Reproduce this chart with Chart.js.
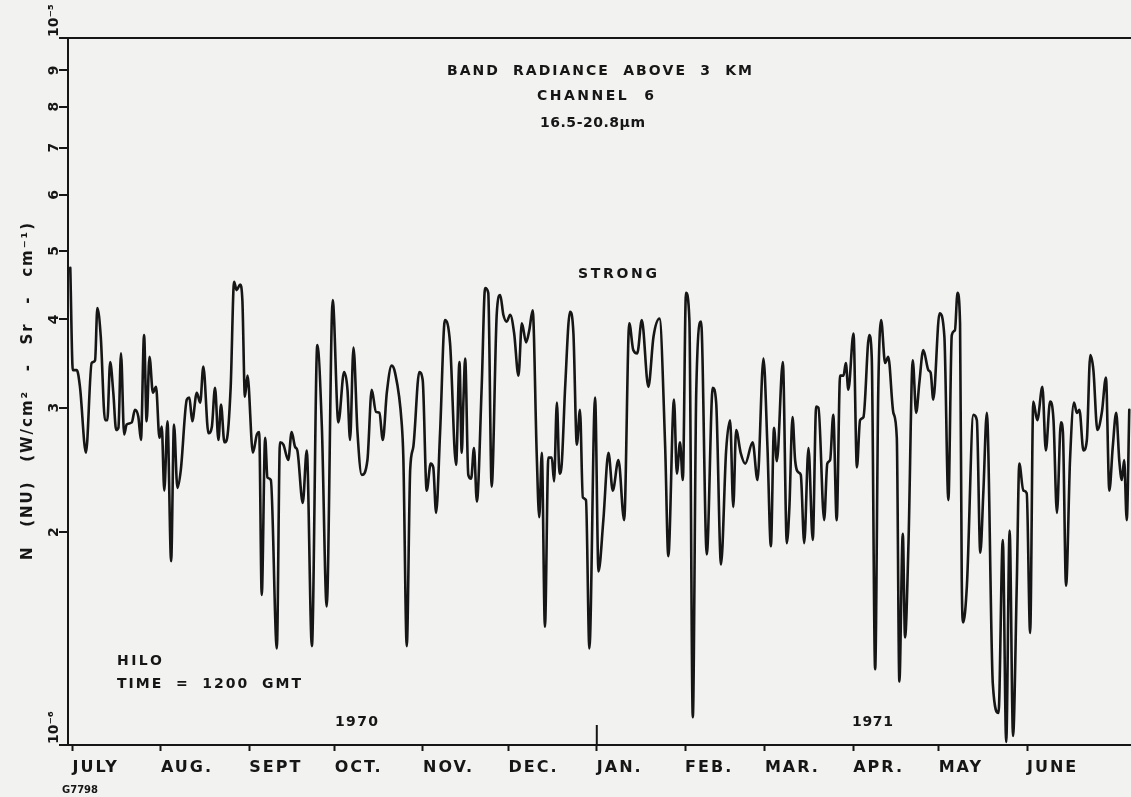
<!DOCTYPE html>
<html>
<head>
<meta charset="utf-8">
<script src="https://cdn.jsdelivr.net/npm/chart.js@4.4.1/dist/chart.umd.min.js"></script>
<style>
  html, body { margin: 0; padding: 0; background: #f2f2f0; }
  #wrap { width: 1131px; height: 797px; position: relative; }
</style>
</head>
<body>
<div id="wrap"><canvas id="c" width="1131" height="797"></canvas></div>
<script>
// ---- DATA (days since 1 July 1970; radiance in units of 1e-6 W/cm2-sr-cm-1) ----
const days = [
  -0.8, 0.1, 1.5, 2.6, 4.7, 6.7, 7.9, 8.7, 9.9, 11.4, 12.2, 13.2, 14.3, 15.3, 16.1, 17.0, 18.1, 19.0, 20.8, 21.9,
  23.1, 24.0, 25.1, 26.0, 27.0, 28.2, 29.3, 30.5, 31.3, 32.2, 33.3, 34.6, 35.6, 36.8, 38.0, 40.1, 41.0, 42.0, 43.6, 44.8,
  45.9, 47.7, 48.9, 50.0, 51.2, 52.1, 53.3, 54.1, 55.5, 56.7, 57.6, 58.8, 59.6, 60.5, 61.4, 63.3, 64.7, 65.5, 66.4, 67.6,
  68.4, 69.6, 71.7, 72.8, 74.0, 75.7, 76.9, 78.1, 78.9, 80.8, 82.2, 84.0, 85.9, 87.5, 89.2, 91.3, 93.3, 95.3, 96.5, 97.4,
  98.6, 100.0, 101.5, 103.5, 105.0, 106.5, 107.7, 108.9, 110.3, 112.0, 113.2, 115.5, 116.1, 117.3, 118.5, 119.6, 121.7,
  122.9, 124.3, 125.7, 126.6, 127.6, 129.0, 130.7, 132.5, 134.6, 135.8, 136.6, 137.2, 137.8, 138.9, 139.9, 140.9, 141.9,
  143.6, 144.8, 145.9, 147.1, 148.9, 150.1, 151.2, 152.4, 153.6, 155.0, 156.5, 157.7, 159.2, 160.3, 161.5, 162.9, 163.8,
  164.7, 165.8, 167.0, 168.2, 169.0, 170.0, 170.9, 171.7, 172.9, 174.6, 175.8, 177.0, 178.1, 179.1, 180.2, 181.4, 183.4,
  184.6, 186.3, 188.1, 189.6, 191.6, 193.6, 195.4, 196.8, 198.2, 199.8, 202.1, 203.9, 206.0, 208.0, 209.1, 211.1, 212.1,
  213.2, 214.2, 215.3, 216.5, 217.7, 218.9, 220.6, 222.6, 224.7, 225.9, 227.6, 229.4, 230.8, 231.9, 232.9, 234.5, 236.1,
  238.7, 240.4,
  242.5, 243.9, 245.1, 246.2, 247.2, 249.3, 250.7, 251.6, 252.7, 253.6, 254.8, 255.6, 256.8, 258.3, 259.8, 261.0, 261.8,
  263.8, 264.9, 265.9, 267.0, 268.2, 269.4, 270.6, 271.4, 272.3, 274.1, 275.3, 276.4, 277.6, 279.6, 280.5, 281.7, 282.8,
  283.8, 285.2, 286.3, 288.1, 289.3, 290.2, 291.4, 292.2, 293.4, 294.9, 296.1, 297.2, 298.6, 300.4, 301.2, 302.1, 304.3,
  306.0, 307.4, 308.6, 309.7, 310.6, 311.5, 312.1, 312.6, 313.9, 316.2, 317.4, 318.6, 319.7, 320.9, 323.0, 325.0,
  326.5, 327.7, 328.9, 330.1, 331.4, 332.3, 333.7, 334.9, 336.1, 337.2, 338.6, 340.4, 341.6, 343.1, 344.3, 345.5,
  346.9, 347.6, 348.7, 350.1, 351.5, 352.5, 353.4, 354.8, 356.0, 357.2, 358.3, 359.7, 361.3, 362.7, 363.9, 365.1, 366.3,
  367.4, 368.3, 369.1, 370.0, 370.9
];
const radiance = [
  4.73, 3.39, 3.39, 3.21, 2.59, 3.47, 3.50, 4.15, 3.78, 2.88, 2.88, 3.48, 3.15, 2.79, 2.81, 3.58, 2.75, 2.84, 2.86, 2.98,
  2.91, 2.70, 3.80, 2.87, 3.54, 3.15, 3.21, 2.72, 2.82, 2.29, 2.87, 1.82, 2.84, 2.31, 2.45, 3.08, 3.10, 2.87, 3.15, 3.05,
  3.43, 2.76, 2.82, 3.20, 2.70, 3.03, 2.68, 2.70, 3.21, 4.52, 4.40, 4.48, 4.26, 3.11, 3.33, 2.59, 2.75, 2.77, 1.63, 2.72,
  2.39, 2.37, 1.37, 2.68, 2.66, 2.53, 2.77, 2.64, 2.61, 2.20, 2.61, 1.38, 3.68, 2.82, 1.57, 4.26, 2.86, 3.37, 3.18, 2.70,
  3.65, 2.77, 2.41, 2.53, 3.18, 2.96, 2.95, 2.70, 3.15, 3.44, 3.36, 2.86, 2.55, 1.38, 2.45, 2.64, 3.37,
  3.28, 2.29, 2.50, 2.47, 2.13, 2.77, 3.99, 3.70, 2.49, 3.48, 2.59, 3.08, 3.52, 2.41, 2.38, 2.63, 2.21,
  3.21, 4.43, 4.36, 2.32, 4.08, 4.33, 4.06, 3.97, 4.06, 3.82, 3.33, 3.95, 3.71, 3.86, 4.12, 2.59, 2.10,
  2.59, 1.47, 2.55, 2.55, 2.36, 3.05, 2.42, 2.50, 3.21, 4.10, 3.82, 2.66, 2.98, 2.24, 2.22, 1.37, 3.10,
  1.76, 2.08, 2.59, 2.29, 2.53, 2.08, 3.95, 3.62, 3.58, 3.99, 3.21, 3.78, 4.01, 2.64, 1.85, 3.08, 2.42,
  2.68, 2.37, 4.36, 3.99, 1.095, 3.15, 3.97, 1.86, 3.20, 3.05, 1.80, 2.61, 2.88, 2.17, 2.79, 2.59, 2.50,
  2.68, 2.37,
  3.52, 2.64, 1.91, 2.81, 2.52, 3.48, 1.93, 2.17, 2.91, 2.53, 2.43, 2.41, 1.93, 2.63, 1.95, 3.01, 3.00,
  2.08, 2.50, 2.53, 2.93, 2.08, 3.33, 3.33, 3.47, 3.18, 3.82, 2.47, 2.88, 2.91, 3.80, 3.54, 1.28, 3.18,
  3.99, 3.47, 3.54, 2.95, 2.72, 1.23, 1.99, 1.42, 1.93, 3.50, 2.95, 3.25, 3.62, 3.39, 3.36, 3.08, 4.08,
  3.78, 2.22, 3.80, 3.86, 4.36, 3.95, 1.71, 1.49, 1.68, 2.93, 2.88, 1.87, 2.29, 2.95, 1.22, 1.11,
  1.95, 1.01, 2.01, 1.03, 1.68, 2.50, 2.29, 2.27, 1.44, 3.06, 2.88, 3.21, 2.61, 3.06, 2.88, 2.13,
  2.86, 2.77, 1.68, 2.53, 3.05, 2.95, 2.98, 2.61, 2.70, 3.56, 3.39, 2.79, 2.96, 3.31, 2.29, 2.64, 2.95,
  2.52, 2.37, 2.53, 2.08, 2.98
];
const monthStartDays = [0, 31, 62, 92, 123, 153, 184, 215, 243, 274, 304, 335];
const monthLabels = ['JULY', 'AUG.', 'SEPT', 'OCT.', 'NOV.', 'DEC.', 'JAN.', 'FEB.', 'MAR.', 'APR.', 'MAY', 'JUNE'];
const yearMarkDay = 184;
const yTickValues = [1, 2, 3, 4, 5, 6, 7, 8, 9, 10];
const yTickLabels = ['10\u207B\u2076', '2', '3', '4', '5', '6', '7', '8', '9', '10\u207B\u2075'];
const X_MIN = -1.6, X_MAX = 371.5;

// ---- STYLE ----
const INK = '#161616';
const FONT = '"DejaVu Sans", "Liberation Sans", sans-serif';

// draw text spread between left and right: fixed gap between letters, stretched word spaces
function spanWords(ctx, str, left, right, cy, size, letterGap) {
  ctx.font = 'bold ' + size + 'px ' + FONT;
  ctx.textBaseline = 'middle';
  ctx.textAlign = 'left';
  const words = str.split(' ');
  const charW = c => ctx.measureText(c).width;
  if (words.length === 1) {
    const cs = Array.from(str);
    const sum = cs.reduce((a, c) => a + charW(c), 0);
    letterGap = cs.length > 1 ? (right - left - sum) / (cs.length - 1) : 0;
  }
  const wordW = words.map(w => {
    const cs = Array.from(w);
    return cs.reduce((a, c) => a + charW(c), 0) + letterGap * (cs.length - 1);
  });
  const total = wordW.reduce((a, b) => a + b, 0);
  const space = words.length > 1 ? (right - left - total) / (words.length - 1) : 0;
  let x = left;
  words.forEach((w, i) => {
    Array.from(w).forEach(c => { ctx.fillText(c, x, cy); x += charW(c) + letterGap; });
    x += space - letterGap;
  });
}

const annotations = {
  id: 'annotations',
  beforeDraw(chart) {
    chart.ctx.letterSpacing = '2px';
  },
  afterDraw(chart) {
    const ctx = chart.ctx;
    ctx.letterSpacing = '0px';
    const xs = chart.scales.x, ys = chart.scales.y;
    const area = chart.chartArea;
    ctx.save();
    ctx.fillStyle = INK;
    ctx.strokeStyle = INK;

    // y tick labels (rotated, reading upward)
    yTickValues.forEach((v, i) => {
      const py = ys.getPixelForValue(v);
      ctx.save();
      ctx.font = 'bold 14px ' + FONT;
      ctx.textBaseline = 'middle';
      if (i === 0 || i === yTickValues.length - 1) {
        ctx.translate(54, py - 1);
        ctx.rotate(-Math.PI / 2);
        ctx.textAlign = 'left';
      } else {
        ctx.translate(54, py);
        ctx.rotate(-Math.PI / 2);
        ctx.textAlign = 'center';
      }
      ctx.fillText(yTickLabels[i], 0, 0);
      ctx.restore();
    });

    // long year-boundary tick at JAN
    const jx = xs.getPixelForValue(yearMarkDay);
    ctx.lineWidth = 2;
    ctx.beginPath();
    ctx.moveTo(jx, area.bottom);
    ctx.lineTo(jx, area.bottom - 20);
    ctx.stroke();

    // y-axis title
    ctx.save();
    ctx.translate(28, 560);
    ctx.rotate(-Math.PI / 2);
    spanWords(ctx, 'N (NU) (W/cm\u00B2 - Sr - cm\u207B\u00B9)', 0, 337, 0, 15, 2);
    ctx.restore();

    // titles and annotations
    spanWords(ctx, 'BAND RADIANCE ABOVE 3 KM', 447, 752, 71, 14, 2);
    spanWords(ctx, 'CHANNEL 6', 537, 654, 96, 14, 2.5);
    spanWords(ctx, '16.5-20.8\u03BCm', 540, 645, 123, 14, 0);
    spanWords(ctx, 'STRONG', 578, 657, 274, 14, 0);
    spanWords(ctx, 'HILO', 117, 162, 661, 14, 0);
    spanWords(ctx, 'TIME = 1200 GMT', 117, 301, 684, 14, 2);
    spanWords(ctx, '1970', 335, 378, 722, 14, 0);
    spanWords(ctx, '1971', 852, 893, 722, 14, 0);
    spanWords(ctx, 'G7798', 62, 98, 790, 10, 0);
    ctx.restore();
  }
};

const points = days.map((d, i) => ({ x: d, y: radiance[i] }));

new Chart(document.getElementById('c'), {
  type: 'line',
  data: {
    datasets: [{
      data: points,
      borderColor: INK,
      borderWidth: 2.6,
      pointRadius: 0,
      fill: false,
      cubicInterpolationMode: 'monotone',
      borderJoinStyle: 'round',
      borderCapStyle: 'round'
    }]
  },
  options: {
    responsive: false,
    animation: false,
    devicePixelRatio: 1,
    layout: { padding: { top: 38, left: 0, right: 0, bottom: 0 } },
    plugins: { legend: { display: false }, tooltip: { enabled: false }, title: { display: false } },
    scales: {
      x: {
        type: 'linear',
        min: X_MIN,
        max: X_MAX,
        afterBuildTicks: s => { s.ticks = monthStartDays.map(v => ({ value: v })); },
        afterFit: s => { s.height = 52; },
        ticks: {
          autoSkip: false, maxRotation: 0, minRotation: 0, align: 'start', padding: 7,
          color: INK, font: { family: FONT, size: 16, weight: 'bold' },
          callback: (v, i) => monthLabels[i]
        },
        grid: { drawOnChartArea: false, drawTicks: true, tickLength: 6, tickColor: INK, tickWidth: 2 },
        border: { display: true, color: INK, width: 2 }
      },
      y: {
        type: 'logarithmic',
        min: 1,
        max: 10,
        afterBuildTicks: s => { s.ticks = yTickValues.map(v => ({ value: v })); },
        afterFit: s => { s.width = 68; },
        ticks: { display: false },
        grid: {
          drawOnChartArea: true,
          color: c => (c.tick && c.tick.value === 10) ? INK : 'rgba(0,0,0,0)',
          lineWidth: 2,
          drawTicks: true, tickLength: 9, tickColor: INK, tickWidth: 2
        },
        border: { display: true, color: INK, width: 2 }
      }
    }
  },
  plugins: [annotations]
});
</script>
</body>
</html>
